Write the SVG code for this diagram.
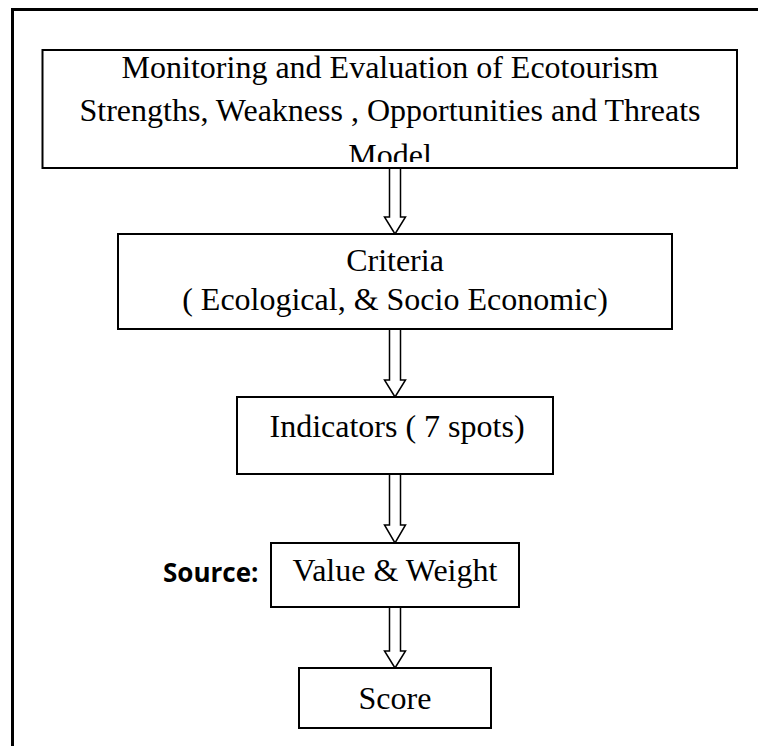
<svg xmlns="http://www.w3.org/2000/svg" width="758" height="746" viewBox="0 0 758 746">
<style>
.box{fill:#fff;stroke:#000;stroke-width:2}
.t{font-family:"Liberation Serif","Times New Roman",serif;font-size:32px;fill:#000;text-anchor:middle}
.src{font-family:"Open Sans","Liberation Sans",sans-serif;font-size:26px;font-weight:bold;fill:#000}
.arr{fill:#fff;stroke:#000;stroke-width:1.5;stroke-linejoin:miter}
</style>
<defs>
<clipPath id="c1"><rect x="44" y="51" width="692" height="111"/></clipPath>
</defs>
<rect width="758" height="746" fill="#fff"/>
<g id="frame">
<path d="M12.5 746 V9.5 H758" fill="none" stroke="#000" stroke-width="3"/>
</g>
<g id="connectors">
<path class="arr" d="M389.5 168 V217 H384.5 L395 234 L405.5 217 H400.5 V168 Z"/>
<path class="arr" d="M389.5 329 V380 H384.5 L395 397 L405.5 380 H400.5 V329 Z"/>
<path class="arr" d="M389.5 474 V525 H384.5 L395 543 L405.5 525 H400.5 V474 Z"/>
<path class="arr" d="M389.5 607 V651 H384.5 L395 668 L405.5 651 H400.5 V607 Z"/>
</g>
<g id="n1">
<rect class="box" x="42.5" y="50" width="694.5" height="118"/>
<g clip-path="url(#c1)">
<text class="t" x="390" y="78">Monitoring and Evaluation of Ecotourism</text>
<text class="t" x="390" y="121">Strengths, Weakness , Opportunities and Threats</text>
<text class="t" x="390" y="166">Model</text>
</g>
</g>
<g id="n2">
<rect class="box" x="118" y="234" width="554" height="95"/>
<text class="t" x="395" y="271">Criteria</text>
<text class="t" x="395" y="310">( Ecological, &amp; Socio Economic)</text>
</g>
<g id="n3">
<rect class="box" x="237" y="397" width="316" height="77"/>
<text class="t" x="397" y="437">Indicators ( 7 spots)</text>
</g>
<g id="n4">
<rect class="box" x="271" y="543" width="248" height="64"/>
<text class="t" x="395" y="581">Value &amp; Weight</text>
</g>
<g id="n5">
<rect class="box" x="299" y="668" width="192" height="60"/>
<text class="t" x="395" y="709">Score</text>
</g>
<g id="src">
<text class="src" x="163" y="582">Source:</text>
</g>
</svg>
